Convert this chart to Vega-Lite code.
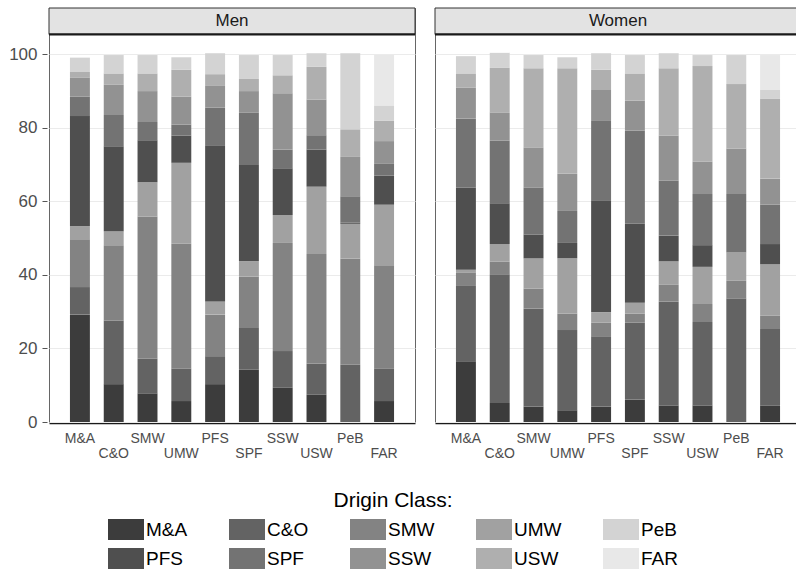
{
  "$schema": "https://vega.github.io/schema/vega-lite/v6.json",
  "padding": {"left": 8, "top": 7, "right": 0, "bottom": 0},
  "autosize": {"type": "pad"},
  "data": {"values": [
    {"s":"Men","d":"M&A","o":"M&A","k":1,"v":29.2},{"s":"Men","d":"M&A","o":"C&O","k":2,"v":7.5},{"s":"Men","d":"M&A","o":"SMW","k":3,"v":13.0},{"s":"Men","d":"M&A","o":"UMW","k":4,"v":3.6},{"s":"Men","d":"M&A","o":"PFS","k":5,"v":29.9},{"s":"Men","d":"M&A","o":"SPF","k":6,"v":5.3},{"s":"Men","d":"M&A","o":"SSW","k":7,"v":5.1},{"s":"Men","d":"M&A","o":"USW","k":8,"v":1.6},{"s":"Men","d":"M&A","o":"PeB","k":9,"v":3.9},
    {"s":"Men","d":"C&O","o":"M&A","k":1,"v":10.3},{"s":"Men","d":"C&O","o":"C&O","k":2,"v":17.3},{"s":"Men","d":"C&O","o":"SMW","k":3,"v":20.5},{"s":"Men","d":"C&O","o":"UMW","k":4,"v":3.8},{"s":"Men","d":"C&O","o":"PFS","k":5,"v":23.1},{"s":"Men","d":"C&O","o":"SPF","k":6,"v":8.5},{"s":"Men","d":"C&O","o":"SSW","k":7,"v":8.2},{"s":"Men","d":"C&O","o":"USW","k":8,"v":3.1},{"s":"Men","d":"C&O","o":"PeB","k":9,"v":5.0},
    {"s":"Men","d":"SMW","o":"M&A","k":1,"v":7.8},{"s":"Men","d":"SMW","o":"C&O","k":2,"v":9.4},{"s":"Men","d":"SMW","o":"SMW","k":3,"v":38.7},{"s":"Men","d":"SMW","o":"UMW","k":4,"v":9.3},{"s":"Men","d":"SMW","o":"PFS","k":5,"v":11.4},{"s":"Men","d":"SMW","o":"SPF","k":6,"v":5.0},{"s":"Men","d":"SMW","o":"SSW","k":7,"v":8.4},{"s":"Men","d":"SMW","o":"USW","k":8,"v":4.8},{"s":"Men","d":"SMW","o":"PeB","k":9,"v":5.0},
    {"s":"Men","d":"UMW","o":"M&A","k":1,"v":5.7},{"s":"Men","d":"UMW","o":"C&O","k":2,"v":8.8},{"s":"Men","d":"UMW","o":"SMW","k":3,"v":34.0},{"s":"Men","d":"UMW","o":"UMW","k":4,"v":22.0},{"s":"Men","d":"UMW","o":"PFS","k":5,"v":7.4},{"s":"Men","d":"UMW","o":"SPF","k":6,"v":3.0},{"s":"Men","d":"UMW","o":"SSW","k":7,"v":7.6},{"s":"Men","d":"UMW","o":"USW","k":8,"v":7.3},{"s":"Men","d":"UMW","o":"PeB","k":9,"v":3.4},
    {"s":"Men","d":"PFS","o":"M&A","k":1,"v":10.3},{"s":"Men","d":"PFS","o":"C&O","k":2,"v":7.6},{"s":"Men","d":"PFS","o":"SMW","k":3,"v":11.3},{"s":"Men","d":"PFS","o":"UMW","k":4,"v":3.6},{"s":"Men","d":"PFS","o":"PFS","k":5,"v":42.5},{"s":"Men","d":"PFS","o":"SPF","k":6,"v":10.2},{"s":"Men","d":"PFS","o":"SSW","k":7,"v":5.9},{"s":"Men","d":"PFS","o":"USW","k":8,"v":3.2},{"s":"Men","d":"PFS","o":"PeB","k":9,"v":5.7},
    {"s":"Men","d":"SPF","o":"M&A","k":1,"v":14.2},{"s":"Men","d":"SPF","o":"C&O","k":2,"v":11.4},{"s":"Men","d":"SPF","o":"SMW","k":3,"v":14.0},{"s":"Men","d":"SPF","o":"UMW","k":4,"v":4.1},{"s":"Men","d":"SPF","o":"PFS","k":5,"v":26.2},{"s":"Men","d":"SPF","o":"SPF","k":6,"v":14.2},{"s":"Men","d":"SPF","o":"SSW","k":7,"v":5.9},{"s":"Men","d":"SPF","o":"USW","k":8,"v":3.3},{"s":"Men","d":"SPF","o":"PeB","k":9,"v":6.5},
    {"s":"Men","d":"SSW","o":"M&A","k":1,"v":9.3},{"s":"Men","d":"SSW","o":"C&O","k":2,"v":10.0},{"s":"Men","d":"SSW","o":"SMW","k":3,"v":29.4},{"s":"Men","d":"SSW","o":"UMW","k":4,"v":7.6},{"s":"Men","d":"SSW","o":"PFS","k":5,"v":12.7},{"s":"Men","d":"SSW","o":"SPF","k":6,"v":5.1},{"s":"Men","d":"SSW","o":"SSW","k":7,"v":15.3},{"s":"Men","d":"SSW","o":"USW","k":8,"v":4.9},{"s":"Men","d":"SSW","o":"PeB","k":9,"v":5.5},
    {"s":"Men","d":"USW","o":"M&A","k":1,"v":7.4},{"s":"Men","d":"USW","o":"C&O","k":2,"v":8.5},{"s":"Men","d":"USW","o":"SMW","k":3,"v":29.8},{"s":"Men","d":"USW","o":"UMW","k":4,"v":18.3},{"s":"Men","d":"USW","o":"PFS","k":5,"v":10.1},{"s":"Men","d":"USW","o":"SPF","k":6,"v":3.9},{"s":"Men","d":"USW","o":"SSW","k":7,"v":9.7},{"s":"Men","d":"USW","o":"USW","k":8,"v":8.9},{"s":"Men","d":"USW","o":"PeB","k":9,"v":3.7},
    {"s":"Men","d":"PeB","o":"C&O","k":2,"v":15.6},{"s":"Men","d":"PeB","o":"SMW","k":3,"v":28.9},{"s":"Men","d":"PeB","o":"UMW","k":4,"v":9.4},{"s":"Men","d":"PeB","o":"PFS","k":5,"v":0.3},{"s":"Men","d":"PeB","o":"SPF","k":6,"v":7.2},{"s":"Men","d":"PeB","o":"SSW","k":7,"v":10.7},{"s":"Men","d":"PeB","o":"USW","k":8,"v":7.5},{"s":"Men","d":"PeB","o":"PeB","k":9,"v":20.7},
    {"s":"Men","d":"FAR","o":"M&A","k":1,"v":5.7},{"s":"Men","d":"FAR","o":"C&O","k":2,"v":8.9},{"s":"Men","d":"FAR","o":"SMW","k":3,"v":28.0},{"s":"Men","d":"FAR","o":"UMW","k":4,"v":16.5},{"s":"Men","d":"FAR","o":"PFS","k":5,"v":7.9},{"s":"Men","d":"FAR","o":"SPF","k":6,"v":3.2},{"s":"Men","d":"FAR","o":"SSW","k":7,"v":6.2},{"s":"Men","d":"FAR","o":"USW","k":8,"v":5.5},{"s":"Men","d":"FAR","o":"PeB","k":9,"v":4.2},{"s":"Men","d":"FAR","o":"FAR","k":10,"v":13.7},
    {"s":"Women","d":"M&A","o":"M&A","k":1,"v":16.5},{"s":"Women","d":"M&A","o":"C&O","k":2,"v":20.5},{"s":"Women","d":"M&A","o":"SMW","k":3,"v":3.7},{"s":"Women","d":"M&A","o":"UMW","k":4,"v":0.7},{"s":"Women","d":"M&A","o":"PFS","k":5,"v":22.3},{"s":"Women","d":"M&A","o":"SPF","k":6,"v":18.8},{"s":"Women","d":"M&A","o":"SSW","k":7,"v":8.4},{"s":"Women","d":"M&A","o":"USW","k":8,"v":3.9},{"s":"Women","d":"M&A","o":"PeB","k":9,"v":4.7},
    {"s":"Women","d":"C&O","o":"M&A","k":1,"v":5.2},{"s":"Women","d":"C&O","o":"C&O","k":2,"v":35.0},{"s":"Women","d":"C&O","o":"SMW","k":3,"v":3.4},{"s":"Women","d":"C&O","o":"UMW","k":4,"v":4.8},{"s":"Women","d":"C&O","o":"PFS","k":5,"v":11.1},{"s":"Women","d":"C&O","o":"SPF","k":6,"v":17.0},{"s":"Women","d":"C&O","o":"SSW","k":7,"v":7.7},{"s":"Women","d":"C&O","o":"USW","k":8,"v":12.1},{"s":"Women","d":"C&O","o":"PeB","k":9,"v":4.1},
    {"s":"Women","d":"SMW","o":"M&A","k":1,"v":4.2},{"s":"Women","d":"SMW","o":"C&O","k":2,"v":26.7},{"s":"Women","d":"SMW","o":"SMW","k":3,"v":5.4},{"s":"Women","d":"SMW","o":"UMW","k":4,"v":8.2},{"s":"Women","d":"SMW","o":"PFS","k":5,"v":6.5},{"s":"Women","d":"SMW","o":"SPF","k":6,"v":12.7},{"s":"Women","d":"SMW","o":"SSW","k":7,"v":11.0},{"s":"Women","d":"SMW","o":"USW","k":8,"v":21.5},{"s":"Women","d":"SMW","o":"PeB","k":9,"v":3.6},
    {"s":"Women","d":"UMW","o":"M&A","k":1,"v":3.2},{"s":"Women","d":"UMW","o":"C&O","k":2,"v":21.8},{"s":"Women","d":"UMW","o":"SMW","k":3,"v":4.5},{"s":"Women","d":"UMW","o":"UMW","k":4,"v":15.0},{"s":"Women","d":"UMW","o":"PFS","k":5,"v":4.2},{"s":"Women","d":"UMW","o":"SPF","k":6,"v":8.7},{"s":"Women","d":"UMW","o":"SSW","k":7,"v":10.1},{"s":"Women","d":"UMW","o":"USW","k":8,"v":28.7},{"s":"Women","d":"UMW","o":"PeB","k":9,"v":3.0},
    {"s":"Women","d":"PFS","o":"M&A","k":1,"v":4.2},{"s":"Women","d":"PFS","o":"C&O","k":2,"v":19.1},{"s":"Women","d":"PFS","o":"SMW","k":3,"v":3.7},{"s":"Women","d":"PFS","o":"UMW","k":4,"v":2.9},{"s":"Women","d":"PFS","o":"PFS","k":5,"v":30.4},{"s":"Women","d":"PFS","o":"SPF","k":6,"v":21.8},{"s":"Women","d":"PFS","o":"SSW","k":7,"v":8.2},{"s":"Women","d":"PFS","o":"USW","k":8,"v":5.5},{"s":"Women","d":"PFS","o":"PeB","k":9,"v":4.5},
    {"s":"Women","d":"SPF","o":"M&A","k":1,"v":6.1},{"s":"Women","d":"SPF","o":"C&O","k":2,"v":20.9},{"s":"Women","d":"SPF","o":"SMW","k":3,"v":2.5},{"s":"Women","d":"SPF","o":"UMW","k":4,"v":2.9},{"s":"Women","d":"SPF","o":"PFS","k":5,"v":21.5},{"s":"Women","d":"SPF","o":"SPF","k":6,"v":25.4},{"s":"Women","d":"SPF","o":"SSW","k":7,"v":8.1},{"s":"Women","d":"SPF","o":"USW","k":8,"v":7.4},{"s":"Women","d":"SPF","o":"PeB","k":9,"v":5.0},
    {"s":"Women","d":"SSW","o":"M&A","k":1,"v":4.5},{"s":"Women","d":"SSW","o":"C&O","k":2,"v":28.3},{"s":"Women","d":"SSW","o":"SMW","k":3,"v":4.5},{"s":"Women","d":"SSW","o":"UMW","k":4,"v":6.4},{"s":"Women","d":"SSW","o":"PFS","k":5,"v":7.0},{"s":"Women","d":"SSW","o":"SPF","k":6,"v":14.9},{"s":"Women","d":"SSW","o":"SSW","k":7,"v":12.3},{"s":"Women","d":"SSW","o":"USW","k":8,"v":18.3},{"s":"Women","d":"SSW","o":"PeB","k":9,"v":4.1},
    {"s":"Women","d":"USW","o":"M&A","k":1,"v":4.5},{"s":"Women","d":"USW","o":"C&O","k":2,"v":22.7},{"s":"Women","d":"USW","o":"SMW","k":3,"v":4.9},{"s":"Women","d":"USW","o":"UMW","k":4,"v":10.1},{"s":"Women","d":"USW","o":"PFS","k":5,"v":5.9},{"s":"Women","d":"USW","o":"SPF","k":6,"v":13.9},{"s":"Women","d":"USW","o":"SSW","k":7,"v":8.8},{"s":"Women","d":"USW","o":"USW","k":8,"v":26.0},{"s":"Women","d":"USW","o":"PeB","k":9,"v":3.0},
    {"s":"Women","d":"PeB","o":"C&O","k":2,"v":33.5},{"s":"Women","d":"PeB","o":"SMW","k":3,"v":4.9},{"s":"Women","d":"PeB","o":"UMW","k":4,"v":7.7},{"s":"Women","d":"PeB","o":"SPF","k":6,"v":15.9},{"s":"Women","d":"PeB","o":"SSW","k":7,"v":12.4},{"s":"Women","d":"PeB","o":"USW","k":8,"v":17.5},{"s":"Women","d":"PeB","o":"PeB","k":9,"v":7.9},
    {"s":"Women","d":"FAR","o":"M&A","k":1,"v":4.5},{"s":"Women","d":"FAR","o":"C&O","k":2,"v":20.8},{"s":"Women","d":"FAR","o":"SMW","k":3,"v":3.6},{"s":"Women","d":"FAR","o":"UMW","k":4,"v":14.0},{"s":"Women","d":"FAR","o":"PFS","k":5,"v":5.5},{"s":"Women","d":"FAR","o":"SPF","k":6,"v":10.7},{"s":"Women","d":"FAR","o":"SSW","k":7,"v":7.1},{"s":"Women","d":"FAR","o":"USW","k":8,"v":21.8},{"s":"Women","d":"FAR","o":"PeB","k":9,"v":2.3},{"s":"Women","d":"FAR","o":"FAR","k":10,"v":9.5}
  ]},
  "facet": {"column": {"field": "s", "type": "nominal", "sort": ["Men", "Women"], "header": null}},
  "spacing": 16,
  "spec": {
    "width": 366,
    "height": 414,
    "layer": [
      {
        "mark": {"type": "bar"},
        "encoding": {
          "x": {"field": "d", "type": "nominal", "sort": ["M&A","C&O","SMW","UMW","PFS","SPF","SSW","USW","PeB","FAR"],
                "scale": {"paddingInner": 0.41, "paddingOuter": 0.62},
                "axis": {"title": null, "labelAngle": 0, "ticks": false, "domainColor": "#1a1a1a", "domainWidth": 1.6, "labelFontSize": 14, "labelPadding": 8, "labelColor": "#4d4d4d", "labelLineHeight": 15,
                         "labelExpr": "indexof(['C&O','UMW','SPF','USW','FAR'], datum.value) >= 0 ? ['', datum.label] : datum.label"}},
          "y": {"field": "v", "type": "quantitative", "stack": "zero",
                "scale": {"domain": [0, 112.6], "nice": false, "zero": true},
                "axis": {"title": null, "values": [0,20,40,60,80,100], "grid": true, "gridColor": "#ebebeb", "domain": false, "tickColor": "#555555", "tickSize": 5, "labelPadding": 5, "labelFontSize": 17, "labelColor": "#4d4d4d"}},
          "color": {"field": "o", "type": "nominal",
                    "scale": {"domain": ["M&A","C&O","SMW","UMW","PeB","PFS","SPF","SSW","USW","FAR"],
                              "range": ["#3c3c3c","#636363","#838383","#a1a1a1","#d3d3d3","#4f4f4f","#737373","#929292","#afafaf","#e8e8e8"]},
                    "legend": {"orient": "none", "legendX": 59, "legendY": 482, "direction": "horizontal", "columns": 5,
                               "title": "Drigin Class:", "titleAnchor": "middle", "titleFontSize": 21, "titleFontWeight": "normal", "titleColor": "#000000", "titlePadding": 8,
                               "symbolType": "M-1.714,-1L1.714,-1L1.714,1L-1.714,1Z", "symbolSize": 441, "symbolOffset": 7.5, "symbolStrokeWidth": 0, "symbolOpacity": 1,
                               "labelOffset": 9.5, "labelFontSize": 19, "labelColor": "#000000", "columnPadding": 41, "rowPadding": 8}},
          "order": {"field": "k", "type": "quantitative", "sort": "ascending"}
        }
      },
      {
        "transform": [{"aggregate": [{"op": "count", "as": "n"}], "groupby": ["s"]}],
        "mark": {"type": "rect", "fill": "#e3e3e3", "stroke": "#333333", "strokeWidth": 1},
        "encoding": {"x": {"value": 0}, "x2": {"value": "width"}, "y": {"datum": 105.4, "type": "quantitative"}, "y2": {"datum": 112.6}}
      },
      {
        "transform": [{"aggregate": [{"op": "count", "as": "n"}], "groupby": ["s"]}],
        "mark": {"type": "rule", "color": "#1a1a1a", "strokeWidth": 2.2},
        "encoding": {"y": {"datum": 105.4, "type": "quantitative"}}
      },
      {
        "transform": [{"aggregate": [{"op": "count", "as": "n"}], "groupby": ["s"]}],
        "mark": {"type": "text", "fontSize": 17, "color": "#1a1a1a", "baseline": "middle"},
        "encoding": {"text": {"field": "s", "type": "nominal"}, "y": {"datum": 109, "type": "quantitative"}}
      }
    ]
  },
  "config": {
    "font": "Liberation Sans",
    "view": {"stroke": "#666666", "strokeWidth": 1},
    "axis": {"title": null}
  }
}
